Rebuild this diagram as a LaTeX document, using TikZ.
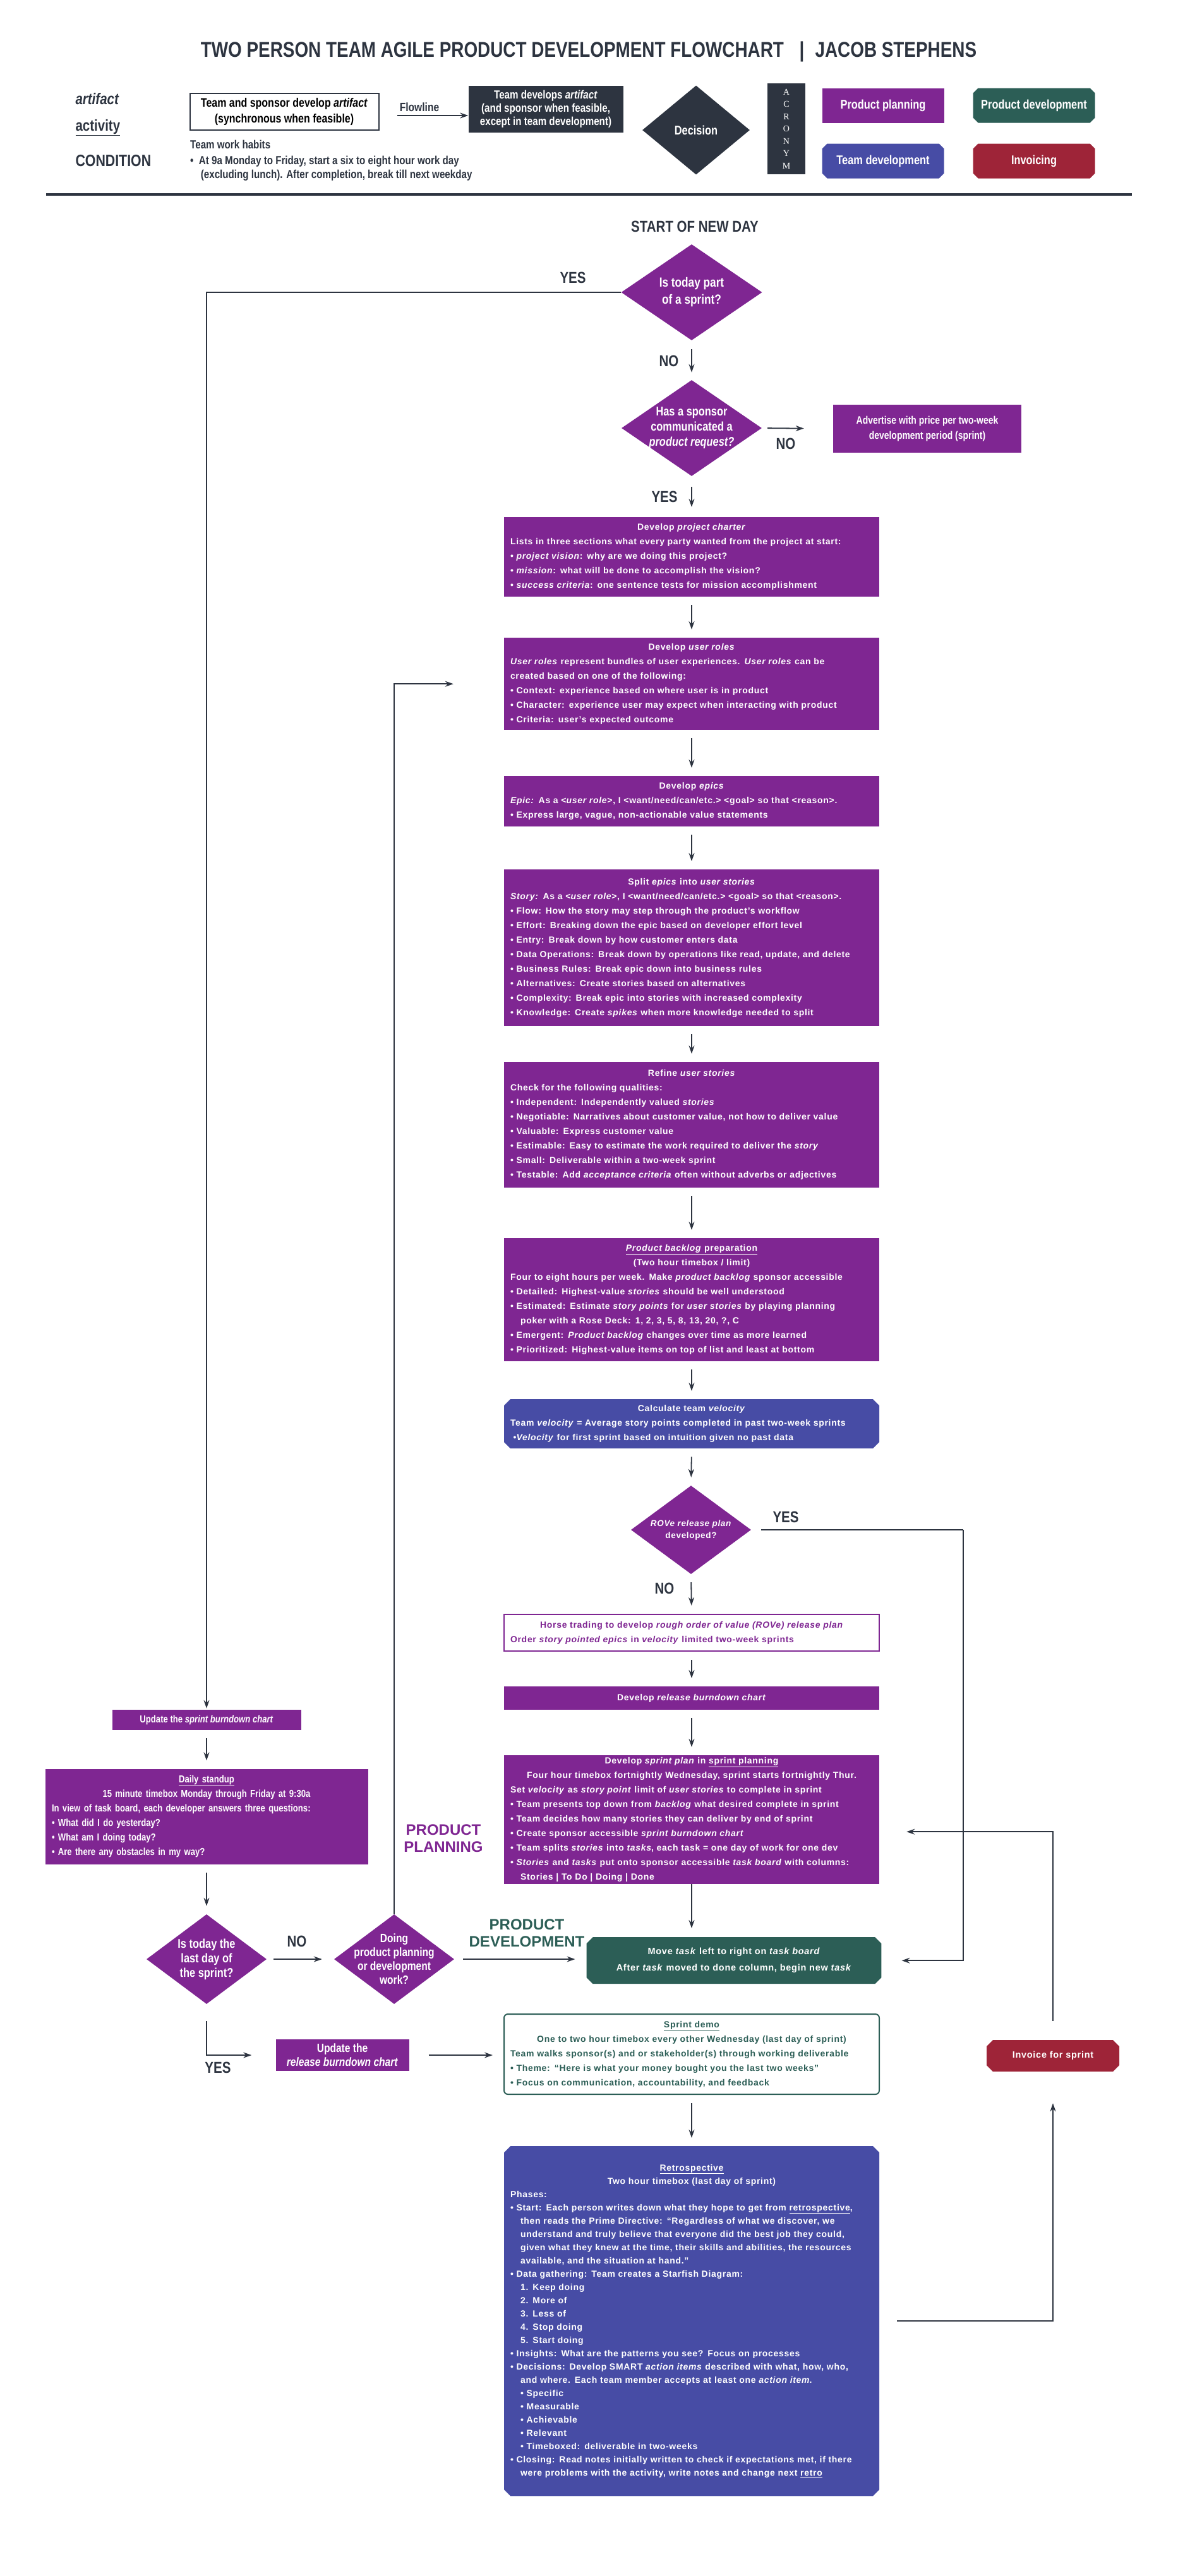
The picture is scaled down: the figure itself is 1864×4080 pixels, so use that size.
\documentclass[tikz,border=0pt]{standalone}
\usepackage{fontspec}
\setmainfont{Liberation Sans}
\newfontfamily\bx{Liberation Sans}[LetterSpace=5]
\newfontfamily\nw{Liberation Sans}[FakeStretch=0.82]
\newfontfamily\serf{Liberation Serif}
\usepackage{tikz}
\usetikzlibrary{arrows.meta, shapes.geometric, shapes.misc}

\definecolor{pp}{HTML}{7F2692}
\definecolor{pd}{HTML}{2C5E56}
\definecolor{td}{HTML}{474CA5}
\definecolor{inv}{HTML}{9E2438}
\definecolor{dk}{HTML}{2D3440}

\newcommand{\hd}[1]{{\centering #1\par}}
\newcommand{\bl}{\textbullet\ }
\newcommand{\ind}{\hspace*{1.15em}}

\begin{document}
\begin{tikzpicture}[
        x = 1pt, y = -1pt, % pixel grid of the chart
        flow/.style = {draw = dk, line width = 1.8pt, -{Stealth[length = 13pt, width = 9pt]}},
        line/.style = {draw = dk, line width = 2pt},
        box/.style = {rectangle, fill = pp, text = white, anchor = north,
            minimum width = 594pt, text width = 574pt, align = left,
            font = \bx\bfseries\fontsize{14}{23}\selectfont},
        small/.style = {rectangle, fill = pp, text = white, align = center,
            font = \nw\bfseries\fontsize{16}{23}\selectfont},
        dia/.style = {diamond, fill = pp, inner sep = 0pt},
        dtext/.style = {text = white, align = center,
            font = \nw\bfseries\fontsize{16}{22}\selectfont},
        yn/.style = {text = dk, font = \nw\bfseries\fontsize{25}{25}\selectfont},
        key/.style = {rectangle, minimum width = 193pt, minimum height = 55pt,
            text = white, font = \nw\bfseries\fontsize{20}{20}\selectfont}
    ]

    \useasboundingbox (0,0) rectangle (1864,4080);

    % title and legend
    \node[text = dk, font = \nw\bfseries\fontsize{34}{34}\selectfont] (title) at (932,82)
        {TWO PERSON TEAM AGILE PRODUCT DEVELOPMENT FLOWCHART \enspace|\enspace JACOB STEPHENS};
    \node[anchor = west, text = dk, font = \nw\bfseries\itshape\fontsize{25}{25}\selectfont] (lart) at (116,157) {artifact};
    \node[anchor = west, text = dk, font = \nw\bfseries\fontsize{25}{25}\selectfont] (lact) at (116,202) {\underline{activity}};
    \node[anchor = west, text = dk, font = \nw\bfseries\fontsize{26}{26}\selectfont] (lcond) at (116,255) {CONDITION};
    \node[draw = dk, line width = 2pt, minimum width = 299pt, minimum height = 58pt, align = center,
        font = \nw\bfseries\fontsize{19.5}{25}\selectfont] (lsync) at (450,177)
        {Team and sponsor develop \textit{artifact}\\(synchronous when feasible)};
    \node[text = dk, font = \nw\bfseries\fontsize{19}{19}\selectfont] (lflow) at (664,170) {Flowline};
    \node[fill = dk, text = white, minimum width = 245pt, minimum height = 74pt, align = center,
        font = \nw\bfseries\fontsize{18.5}{21}\selectfont] (lteam) at (864,173)
        {Team develops \textit{artifact}\\(and sponsor when feasible,\\except in team development)};
    \draw[flow, line width = 1.5pt] (lsync.east) ++(28,6) coordinate (fl) -- (lteam.west |- fl);
    \node[diamond, fill = dk, inner sep = 0pt, minimum width = 170pt, minimum height = 141pt] (ldec) at (1102,206) {};
    \node[dtext, font = \nw\bfseries\fontsize{20}{20}\selectfont] at (ldec) {Decision};
    \node[fill = dk, text = white, minimum width = 60pt, minimum height = 144pt, align = center,
        font = \serf\fontsize{14}{19.5}\selectfont] (lacr) at (1245,204) {A\\C\\R\\O\\N\\Y\\M};
    \node[key, fill = pp] (lpp) at (1398,167) {Product planning};
    \node[key, fill = pd, chamfered rectangle, chamfered rectangle xsep = 4pt, chamfered rectangle ysep = 4pt] (lpd) at (1637,167) {Product development};
    \node[key, fill = td, chamfered rectangle, chamfered rectangle xsep = 4pt, chamfered rectangle ysep = 4pt] (ltd) at (1398,255) {Team development};
    \node[key, fill = inv, chamfered rectangle, chamfered rectangle xsep = 4pt, chamfered rectangle ysep = 4pt] (linv) at (1637,255) {Invoicing};
    \node[anchor = north west, text = dk, align = left, inner sep = 0pt,
        font = \nw\bfseries\fontsize{18.5}{22}\selectfont] (lhab) at (301,222)
        {Team work habits\\[3pt]\textbullet\ \ At 9a Monday to Friday, start a six to eight hour work day\\
         \hspace*{0.9em}(excluding lunch). After completion, break till next weekday};
    \draw[line width = 4pt, dk] (73,308) -- (1792,308);

    % start of day
    \node[text = dk, font = \nw\bfseries\fontsize{25}{25}\selectfont] (start) at (1100,359) {START OF NEW DAY};
    \node[dia, minimum width = 223pt, minimum height = 152pt] (d1) at (1095,463) {};
    \node[dtext, font = \nw\bfseries\fontsize{21}{27}\selectfont] at (d1) {Is today part\\of a sprint?};
    \node[dia, minimum width = 222pt, minimum height = 152pt] (d2) at (1095,678) {};
    \node[dtext, font = \nw\bfseries\fontsize{20}{24}\selectfont] at (d2) {Has a sponsor\\communicated a\\\textit{product request?}};
    \node[small, minimum width = 298pt, minimum height = 76pt, font = \nw\bfseries\fontsize{17}{24}\selectfont] (adv) at (1468,679)
        {Advertise with price per two-week\\development period (sprint)};

    % product planning column
    \node[box, minimum height = 126pt] (charter) at (1095,819) {\hd{Develop \textit{project charter}}
        Lists in three sections what every party wanted from the project at start:\\
        \bl\textit{project vision}: why are we doing this project?\\
        \bl\textit{mission}: what will be done to accomplish the vision?\\
        \bl\textit{success criteria}: one sentence tests for mission accomplishment};
    \node[box, minimum height = 146pt] (roles) at (1095,1010) {\hd{Develop \textit{user roles}}
        \textit{User roles} represent bundles of user experiences. \textit{User roles} can be\\
        created based on one of the following:\\
        \bl Context: experience based on where user is in product\\
        \bl Character: experience user may expect when interacting with product\\
        \bl Criteria: user’s expected outcome};
    \node[box, minimum height = 80pt] (epics) at (1095,1229) {\hd{Develop \textit{epics}}
        \textit{Epic:} As a <\textit{user role}>, I <want/need/can/etc.> <goal> so that <reason>.\\
        \bl Express large, vague, non-actionable value statements};
    \node[box, minimum height = 248pt] (split) at (1095,1377) {\hd{Split \textit{epics} into \textit{user stories}}
        \textit{Story:} As a <\textit{user role}>, I <want/need/can/etc.> <goal> so that <reason>.\\
        \bl Flow: How the story may step through the product’s workflow\\
        \bl Effort: Breaking down the epic based on developer effort level\\
        \bl Entry: Break down by how customer enters data\\
        \bl Data Operations: Break down by operations like read, update, and delete\\
        \bl Business Rules: Break epic down into business rules\\
        \bl Alternatives: Create stories based on alternatives\\
        \bl Complexity: Break epic into stories with increased complexity\\
        \bl Knowledge: Create \textit{spikes} when more knowledge needed to split};
    \node[box, minimum height = 199pt] (refine) at (1095,1682) {\hd{Refine \textit{user stories}}
        Check for the following qualities:\\
        \bl Independent: Independently valued \textit{stories}\\
        \bl Negotiable: Narratives about customer value, not how to deliver value\\
        \bl Valuable: Express customer value\\
        \bl Estimable: Easy to estimate the work required to deliver the \textit{story}\\
        \bl Small: Deliverable within a two-week sprint\\
        \bl Testable: Add \textit{acceptance criteria} often without adverbs or adjectives};
    \node[box, minimum height = 195pt] (backlog) at (1095,1961) {\hd{\underline{\textit{Product backlog} preparation}}
        \hd{(Two hour timebox / limit)}
        Four to eight hours per week. Make \textit{product backlog} sponsor accessible\\
        \bl Detailed: Highest-value \textit{stories} should be well understood\\
        \bl Estimated: Estimate \textit{story points} for \textit{user stories} by playing planning\\
        \ind poker with a Rose Deck: 1, 2, 3, 5, 8, 13, 20, ?, C\\
        \bl Emergent: \textit{Product backlog} changes over time as more learned\\
        \bl Prioritized: Highest-value items on top of list and least at bottom};
    \node[box, fill = td, minimum height = 78pt, chamfered rectangle, chamfered rectangle xsep = 5pt,
        chamfered rectangle ysep = 5pt] (velocity) at (1095,2216) {\hd{Calculate team \textit{velocity}}
        Team \textit{velocity} = Average story points completed in past two-week sprints\\
        \ \textbullet\textit{Velocity} for first sprint based on intuition given no past data};
    \node[dia, minimum width = 190pt, minimum height = 140pt] (d3) at (1094,2423) {};
    \node[dtext, font = \bx\bfseries\fontsize{13.5}{19}\selectfont] at (d3) {\textit{ROVe release plan}\\developed?};
    \node[box, fill = white, draw = pp, line width = 2pt, text = pp, minimum height = 58pt] (horse) at (1095,2556)
        {\hd{Horse trading to develop \textit{rough order of value (ROVe) release plan}}
        Order \textit{story pointed epics} in \textit{velocity} limited two-week sprints};
    \node[box, minimum height = 37pt] (relburn) at (1095,2671) {\hd{Develop \textit{release burndown chart}}};
    \node[box, minimum height = 182pt] (sprint) at (1095,2780) {\hd{Develop \textit{sprint plan} in \underline{sprint planning}}
        \hd{Four hour timebox fortnightly Wednesday, sprint starts fortnightly Thur.}
        Set \textit{velocity} as \textit{story point} limit of \textit{user stories} to complete in sprint\\
        \bl Team presents top down from \textit{backlog} what desired complete in sprint\\
        \bl Team decides how many stories they can deliver by end of sprint\\
        \bl Create sponsor accessible \textit{sprint burndown chart}\\
        \bl Team splits \textit{stories} into \textit{tasks}, each task = one day of work for one dev\\
        \bl\textit{Stories} and \textit{tasks} put onto sponsor accessible \textit{task board} with columns:\\
        \ind Stories | To Do | Doing | Done};
    \node[box, fill = pd, minimum width = 460pt, text width = 450pt, minimum height = 74pt, chamfered rectangle,
        chamfered rectangle xsep = 5pt, chamfered rectangle ysep = 5pt, align = center,
        font = \bx\bfseries\fontsize{14.5}{26}\selectfont] (task) at (1162,3068)
        {Move \textit{task} left to right on \textit{task board}\\After \textit{task} moved to done column, begin new \textit{task}};
    \node[box, fill = white, draw = pd, text = pd, line width = 2pt, rounded corners = 6pt,
        minimum height = 127pt] (demo) at (1095,3189) {\hd{\underline{Sprint demo}}
        \hd{One to two hour timebox every other Wednesday (last day of sprint)}
        Team walks sponsor(s) and or stakeholder(s) through working deliverable\\
        \bl Theme: “Here is what your money bought you the last two weeks”\\
        \bl Focus on communication, accountability, and feedback};
    \node[box, fill = td, minimum height = 554pt, chamfered rectangle, chamfered rectangle xsep = 5pt,
        chamfered rectangle ysep = 5pt, font = \bx\bfseries\fontsize{14}{21}\selectfont] (retro) at (1095,3399)
        {\hd{\underline{Retrospective}}
        \hd{Two hour timebox (last day of sprint)}
        Phases:\\
        \bl Start: Each person writes down what they hope to get from \underline{retrospective},\\
        \ind then reads the Prime Directive: “Regardless of what we discover, we\\
        \ind understand and truly believe that everyone did the best job they could,\\
        \ind given what they knew at the time, their skills and abilities, the resources\\
        \ind available, and the situation at hand.”\\
        \bl Data gathering: Team creates a Starfish Diagram:\\
        \ind 1. Keep doing\\ \ind 2. More of\\ \ind 3. Less of\\ \ind 4. Stop doing\\ \ind 5. Start doing\\
        \bl Insights: What are the patterns you see? Focus on processes\\
        \bl Decisions: Develop SMART \textit{action items} described with what, how, who,\\
        \ind and where. Each team member accepts at least one \textit{action item}.\\
        \ind\bl Specific\\ \ind\bl Measurable\\ \ind\bl Achievable\\ \ind\bl Relevant\\
        \ind\bl Timeboxed: deliverable in two-weeks\\
        \bl Closing: Read notes initially written to check if expectations met, if there\\
        \ind were problems with the activity, write notes and change next \underline{retro}};
    \node[small, fill = inv, minimum width = 210pt, minimum height = 50pt, chamfered rectangle,
        chamfered rectangle xsep = 5pt, chamfered rectangle ysep = 5pt,
        font = \bx\bfseries\fontsize{14.5}{14.5}\selectfont] (invoice) at (1667,3256) {Invoice for sprint};

    % daily loop on the left
    \node[small, minimum width = 299pt, minimum height = 32pt] (updsprint) at (327,2724) {Update the \textit{sprint burndown chart}};
    \node[small, minimum width = 511pt, minimum height = 151pt, text width = 490pt, align = left] (standup) at (327,2877)
        {\hd{\underline{Daily standup}}
        \hd{15 minute timebox Monday through Friday at 9:30a}
        In view of task board, each developer answers three questions:\\
        \bl What did I do yesterday?\\
        \bl What am I doing today?\\
        \bl Are there any obstacles in my way?};
    \node[dia, minimum width = 190pt, minimum height = 142pt] (d4) at (327,3103) {};
    \node[dtext, font = \nw\bfseries\fontsize{20}{23}\selectfont] at (d4) {Is today the\\last day of\\the sprint?};
    \node[dia, minimum width = 190pt, minimum height = 142pt] (d5) at (624,3103) {};
    \node[dtext, font = \nw\bfseries\fontsize{19}{22}\selectfont] at (d5) {Doing\\product planning\\or development\\work?};
    \node[small, minimum width = 211pt, minimum height = 50pt, font = \nw\bfseries\fontsize{19}{22}\selectfont] (relupd) at (542,3255)
        {Update the\\\textit{release burndown chart}};
    \node[text = pp, align = center, font = \bfseries\fontsize{24}{27}\selectfont] (plan) at (702,2912) {PRODUCT\\PLANNING};
    \node[text = pd, align = center, font = \bfseries\fontsize{24}{27}\selectfont] (dev) at (834,3062) {PRODUCT\\DEVELOPMENT};

    % YES / NO labels
    \node[yn] (y1) at (907,440) {YES};
    \node[yn] (n1) at (1059,572) {NO};
    \node[yn] (n2) at (1244,703) {NO};
    \node[yn] (y2) at (1052,787) {YES};
    \node[yn] (y3) at (1244,2403) {YES};
    \node[yn] (n3) at (1052,2516) {NO};
    \node[yn] (n4) at (470,3075) {NO};
    \node[yn] (y4) at (345,3275) {YES};

    % connectors
    \draw[flow, shorten > = 2pt] (d1.west) -| (updsprint.north);
    \draw[flow, shorten < = 14pt, shorten > = 12pt] (d1.south) -- (d2.north);
    \draw[flow, shorten < = 9pt, shorten > = 46pt] (d2.east) -- (adv.west);
    \draw[flow, shorten < = 17pt, shorten > = 16pt] (d2.south) -- (charter.north);
    \foreach \a/\b in {charter/roles, roles/epics, epics/split, split/refine, refine/backlog,
                       backlog/velocity, velocity/d3, d3/horse, horse/relburn, relburn/sprint,
                       demo/retro, updsprint/standup, standup/d4}
        \draw[flow, shorten < = 13pt, shorten > = 13pt] (\a.south) -- (\b.north);
    \draw[flow, shorten < = 60pt, shorten > = 14pt] (sprint.south) ++(0,-60) -- (sprint.south |- task.north);
    \draw[line] (d3.east) ++(16,0) coordinate (yesr) -- ++(320,0) coordinate (yesc);
    \draw[flow, shorten > = 32pt] (yesc) |- (task.east);
    \draw[flow, shorten < = 28pt, shorten > = 50pt] (retro.east) -| (invoice.south);
    \draw[flow, shorten < = 30pt, shorten > = 43pt] (invoice.north) |- ([yshift = -19pt]sprint.east);
    \draw[flow, shorten < = 11pt, shorten > = 19pt] (d4.east) -- (d5.west);
    \draw[flow, shorten > = 80pt] (d5.north) |- (roles.west);
    \draw[flow, shorten < = 14pt, shorten > = 18pt] (d5.east) -- (task.west |- d5.east);
    \draw[flow, shorten < = 27pt, shorten > = 38pt] (d4.south) |- (relupd.west);
    \draw[flow, shorten < = 31pt, shorten > = 17pt] (relupd.east) -- (demo.west |- relupd.east);

\end{tikzpicture}
\end{document}
